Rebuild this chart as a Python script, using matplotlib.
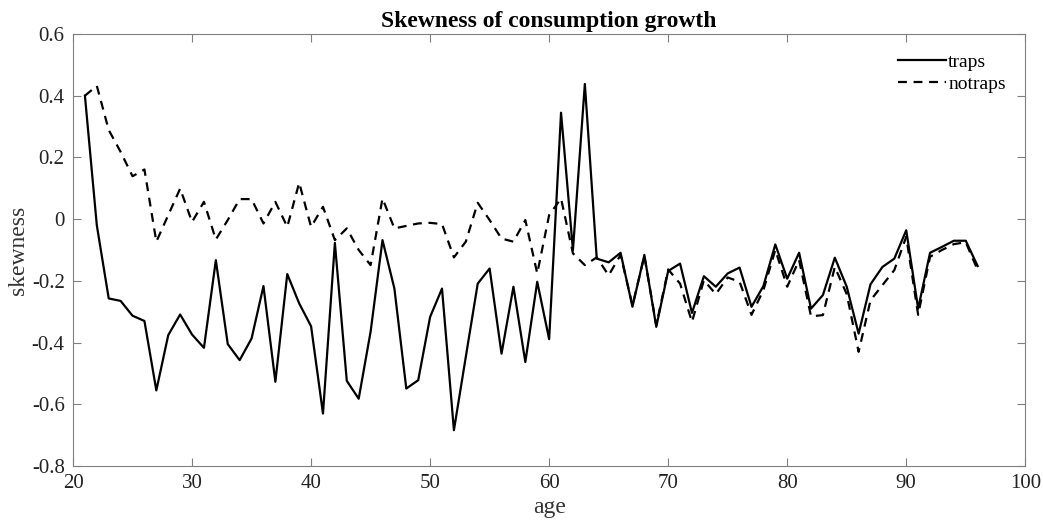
# Skewness of consumption growth by age, traps vs notraps
import matplotlib
matplotlib.use("Agg")
import matplotlib.pyplot as plt

plt.rcParams['font.family'] = ['Liberation Serif', 'DejaVu Serif']

# Data
edades = list(range(21, 97))
traps = [0.40, -0.02, -0.257, -0.265, -0.313, -0.33, -0.555, -0.376, -0.309, -0.374,
         -0.417, -0.133, -0.405, -0.457, -0.387, -0.217, -0.527, -0.178, -0.273, -0.347,
         -0.63, -0.077, -0.524, -0.582, -0.365, -0.068, -0.225, -0.549, -0.522, -0.317,
         -0.225, -0.684, -0.446, -0.209, -0.16, -0.436, -0.219, -0.463, -0.203, -0.389,
         0.345, -0.10, 0.438, -0.128, -0.14, -0.109, -0.284, -0.116, -0.349, -0.168,
         -0.144, -0.304, -0.185, -0.219, -0.176, -0.157, -0.284, -0.217, -0.082, -0.193,
         -0.109, -0.29, -0.246, -0.125, -0.219, -0.371, -0.211, -0.155, -0.128, -0.036,
         -0.29, -0.109, -0.09, -0.07, -0.07, -0.152]
notraps = [0.40, 0.432, 0.289, 0.218, 0.139, 0.161, -0.073, 0.013, 0.099, -0.009,
           0.056, -0.066, -0.003, 0.065, 0.065, -0.014, 0.056, -0.025, 0.118, -0.025,
           0.04, -0.068, -0.03, -0.10, -0.149, 0.067, -0.03, -0.022, -0.014, -0.012,
           -0.016, -0.124, -0.073, 0.053, -0.003, -0.063, -0.073, -0.003, -0.176, 0.013,
           0.067, -0.111, -0.149, -0.124, -0.182, -0.116, -0.279, -0.12, -0.344, -0.163,
           -0.209, -0.333, -0.198, -0.243, -0.189, -0.203, -0.31, -0.23, -0.10, -0.219,
           -0.133, -0.315, -0.311, -0.155, -0.243, -0.43, -0.263, -0.214, -0.165, -0.057,
           -0.31, -0.122, -0.10, -0.081, -0.075, -0.165]

fig = plt.figure(figsize=(10.43, 5.23), dpi=100)
ax = fig.add_axes([0.07, 0.109, 0.913, 0.826])

ax.plot(edades, traps, color='black', linewidth=1.6, linestyle='-', label='traps')
ax.plot(edades, notraps, color='black', linewidth=1.6, linestyle=(0, (4, 3)), label='notraps')

ax.set_xlim(20, 100)
ax.set_ylim(-0.8, 0.6)
ax.set_xticks(range(20, 101, 10))
ax.set_yticks([-0.8, -0.6, -0.4, -0.2, 0, 0.2, 0.4, 0.6])
ax.set_yticklabels(['-0.8', '-0.6', '-0.4', '-0.2', '0', '0.2', '0.4', '0.6'])

for lado in ax.spines.values():
    lado.set_color('#808080')
    lado.set_linewidth(0.8)
ax.tick_params(direction='in', top=True, right=True, length=6, color='#808080',
               labelsize=15, labelcolor='#222222', pad=6)

ax.set_title('Skewness of consumption growth', fontsize=17, fontweight='bold', pad=5)
ax.set_xlabel('age', fontsize=17, color='#333333', labelpad=3)
ax.set_ylabel('skewness', fontsize=17, color='#333333', labelpad=2)

ax.legend(loc='upper right', frameon=False, fontsize=14, handlelength=2.5,
          handletextpad=0.1, borderaxespad=0.6, labelspacing=0.2)

fig.savefig('out.png', dpi=100)
